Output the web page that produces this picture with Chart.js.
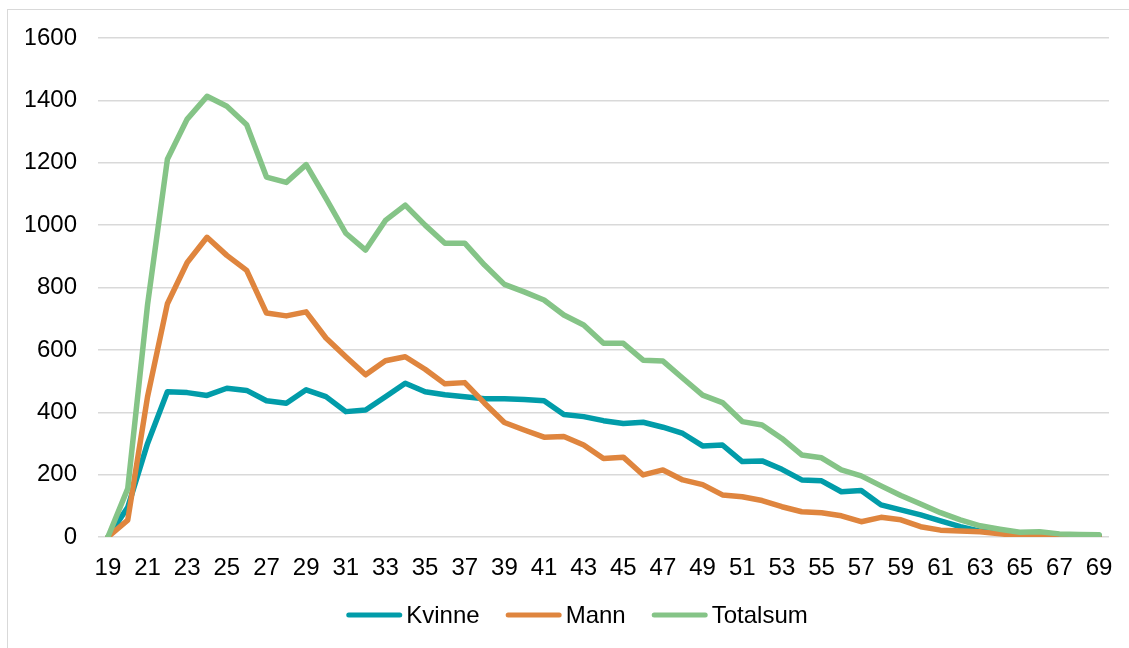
<!DOCTYPE html>
<html lang="no">
<head>
<meta charset="utf-8">
<title>Aldersfordeling</title>
<script src="https://cdn.jsdelivr.net/npm/chart.js@4"></script>
<style>
    html, body { margin: 0; padding: 0; background: #fff; overflow: hidden; }
    #wrap { position: relative; width: 1129px; height: 648px; }
    #frame { position: absolute; left: 7px; top: 9px; width: 1140px; height: 660px; border: 1px solid #d9d9d9; }
    #chart { position: absolute; left: 0; top: 0; }
</style>
</head>
<body>
<div id="wrap">
    <div id="frame"></div>
    <canvas id="chart" width="1129" height="648"></canvas>
</div>
<script>
// Idades (eixo X)
const ages = [19, 20, 21, 22, 23, 24, 25, 26, 27, 28, 29, 30, 31, 32, 33, 34, 35, 36, 37, 38, 39,
    40, 41, 42, 43, 44, 45, 46, 47, 48, 49, 50, 51, 52, 53, 54, 55, 56, 57, 58, 59,
    60, 61, 62, 63, 64, 65, 66, 67, 68, 69];

// Séries
const kvinne = [0, 95, 300, 466, 463, 454, 477, 470, 437, 429, 472,
    450, 402, 407, 450, 493, 466, 456, 450, 443, 443,
    441, 437, 393, 386, 373, 364, 368, 352, 332, 292,
    295, 242, 244, 217, 183, 180, 145, 149, 103, 87,
    71, 52, 33, 19, 15, 10, 12, 7, 6, 5];

const mann = [0, 54, 450, 748, 880, 961, 903, 855, 718, 709, 722,
    638, 578, 520, 565, 578, 538, 491, 495, 429, 367,
    343, 320, 322, 295, 252, 256, 199, 215, 183, 168,
    135, 129, 117, 97, 81, 78, 68, 49, 63, 55,
    33, 22, 19, 17, 10, 5, 5, 3, 2, 2];

const totalsum = [0, 155, 745, 1211, 1340, 1413, 1381, 1322, 1154, 1137, 1194,
    1086, 974, 920, 1015, 1064, 1000, 942, 942, 872, 810,
    786, 760, 712, 680, 621, 621, 567, 564, 509, 455,
    431, 370, 359, 316, 263, 254, 215, 196, 164, 133,
    106, 78, 55, 36, 25, 15, 17, 10, 8, 7];

// Rótulos do eixo Y
const yTicks = [0, 200, 400, 600, 800, 1000, 1200, 1400, 1600];

const fontFamily = '"Liberation Sans", Arial, sans-serif';

// Legenda desenhada à mão (linha curta + texto colado, como no Excel)
const excelLegend = {
    id: 'excelLegend',
    afterDraw(chart) {
        const c = chart.ctx;
        const lineLen = 56, textGap = 4, itemGap = 26, centerX = 577, y = 615;
        c.save();
        c.font = '24px ' + fontFamily;
        c.textBaseline = 'middle';
        c.textAlign = 'left';

        const items = chart.data.datasets.map(ds => ({
            label: ds.label,
            color: ds.borderColor,
            width: lineLen + textGap + c.measureText(ds.label).width
        }));
        const total = items.reduce((s, it) => s + it.width, 0) + itemGap * (items.length - 1);
        let x = centerX - total / 2;

        items.forEach(it => {
            c.strokeStyle = it.color;
            c.lineWidth = 5;
            c.lineCap = 'round';
            c.beginPath();
            c.moveTo(x + 2.5, y);
            c.lineTo(x + lineLen - 2.5, y);
            c.stroke();
            c.fillStyle = '#000';
            c.fillText(it.label, x + lineLen + textGap, y + 1);
            x += it.width + itemGap;
        });
        c.restore();
    }
};

document.addEventListener('DOMContentLoaded', function () {
    const ctx = document.getElementById('chart').getContext('2d');

    function serie(label, data, color, order) {
        return {
            label: label,
            data: data,
            borderColor: color,
            backgroundColor: color,
            borderWidth: 5.5,
            pointRadius: 0,
            tension: 0,
            borderJoinStyle: 'round',
            borderCapStyle: 'round',
            order: order
        };
    }

    new Chart(ctx, {
        type: 'line',
        data: {
            labels: ages,
            datasets: [
                serie('Kvinne', kvinne, '#019ca9', 2),
                serie('Mann', mann, '#df853e', 1),
                serie('Totalsum', totalsum, '#85c487', 0)
            ]
        },
        options: {
            responsive: false,
            animation: false,
            layout: {
                padding: { left: 26, right: 20, top: 38, bottom: 62 }
            },
            plugins: {
                legend: { display: false },
                tooltip: { enabled: false }
            },
            scales: {
                x: {
                    offset: true,
                    grid: { display: false },
                    border: { display: false },
                    ticks: {
                        color: '#000',
                        font: { family: fontFamily, size: 24 },
                        maxRotation: 0,
                        autoSkip: false,
                        padding: 9,
                        callback: function (value, index) {
                            return index % 2 === 0 ? String(ages[index]) : '';
                        }
                    },
                    afterFit: function (scale) { scale.height = 49; }
                },
                y: {
                    min: yTicks[0],
                    max: yTicks[yTicks.length - 1],
                    grid: { color: '#d9d9d9', lineWidth: 1.5, drawTicks: false },
                    border: { display: false },
                    ticks: {
                        stepSize: 200,
                        color: '#000',
                        font: { family: fontFamily, size: 24 },
                        padding: 21,
                        callback: function (value) {
                            return yTicks.includes(value) ? String(value) : '';
                        }
                    },
                    afterFit: function (scale) { scale.width = 72; }
                }
            }
        },
        plugins: [excelLegend]
    });
});
</script>
</body>
</html>
